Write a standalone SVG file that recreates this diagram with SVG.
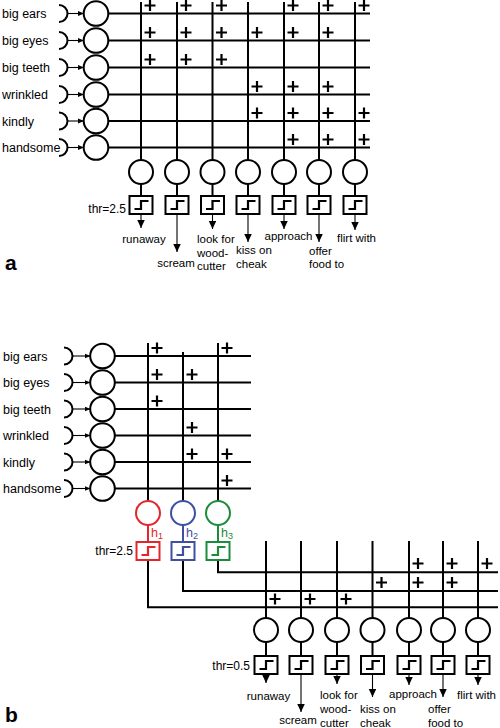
<svg xmlns="http://www.w3.org/2000/svg" xmlns:xlink="http://www.w3.org/1999/xlink" width="500" height="728" viewBox="0 0 500 728">
<style>
.w{stroke:#000;stroke-width:2;fill:none}
.t{stroke:#000;stroke-width:1.1;fill:none}
.nc{fill:#fff;stroke:#000;stroke-width:2}
.bx{fill:#fff;stroke:#000;stroke-width:2}
.st{fill:none;stroke:#000;stroke-width:2.2}
.lab{font-family:"Liberation Sans",Arial,sans-serif;font-size:12.5px;fill:#000}
.out{font-family:"Liberation Sans",Arial,sans-serif;font-size:11.5px;fill:#000}
.thr{font-family:"Liberation Sans",Arial,sans-serif;font-size:12px;fill:#000;text-anchor:end}
.big{font-family:"Liberation Sans",Arial,sans-serif;font-size:21px;font-weight:bold;fill:#000}
.m{text-anchor:middle}
.red{stroke:#e3262b}
.blue{stroke:#3f4fa3}
.green{stroke:#1b8c3c}
</style>
<defs>
<path id="plus" d="M-5.5,0H5.5M0,-5.5V5.5" stroke="#000" stroke-width="2.2"/>
<marker id="ah" markerUnits="userSpaceOnUse" markerWidth="8" markerHeight="8" refX="8" refY="3.75" orient="auto"><path d="M0,0L8,3.75L0,7.5z" fill="#000"/></marker>
<marker id="ahs" markerUnits="userSpaceOnUse" markerWidth="7" markerHeight="6" refX="6" refY="3" orient="auto"><path d="M0,0.5L6,3L0,5.5z" fill="#000"/></marker>
<path id="step" d="M-6.5,13H0V5H7.5"/>
</defs>

<!-- ================= PANEL A ================= -->
<g id="a-connectors">
<g class="w">
<path d="M108,13.5H370M108,40.5H370M108,67.5H370M108,94.5H370M108,121H370M108,147.5H370"/>
<path d="M141,2V160M177,2V160M212.5,2V160M248,2V160M284,2V160M319,2V160M355,2V160"/>
<path d="M141,184V196M177,184V196M212.5,184V196M248,184V196M284,184V196M319,184V196M355,184V196"/>
</g>
<g class="t">
<line x1="67.5" y1="13.5" x2="84" y2="13.5" marker-end="url(#ahs)"/>
<line x1="67.5" y1="40.5" x2="84" y2="40.5" marker-end="url(#ahs)"/>
<line x1="67.5" y1="67.5" x2="84" y2="67.5" marker-end="url(#ahs)"/>
<line x1="67.5" y1="94.5" x2="84" y2="94.5" marker-end="url(#ahs)"/>
<line x1="67.5" y1="121" x2="84" y2="121" marker-end="url(#ahs)"/>
<line x1="67.5" y1="147.5" x2="84" y2="147.5" marker-end="url(#ahs)"/>
<line x1="141" y1="214" x2="141" y2="228" marker-end="url(#ah)"/>
<line x1="177" y1="214" x2="177" y2="252" marker-end="url(#ah)"/>
<line x1="212.5" y1="214" x2="212.5" y2="229" marker-end="url(#ah)"/>
<line x1="248" y1="214" x2="248" y2="242" marker-end="url(#ah)"/>
<line x1="284" y1="214" x2="284" y2="229" marker-end="url(#ah)"/>
<line x1="319" y1="214" x2="319" y2="242" marker-end="url(#ah)"/>
<line x1="355" y1="214" x2="355" y2="230" marker-end="url(#ah)"/>
</g>
<g id="a-weights">
<use xlink:href="#plus" x="150" y="5.5"/><use xlink:href="#plus" x="186" y="5.5"/><use xlink:href="#plus" x="221.5" y="5.5"/><use xlink:href="#plus" x="293" y="5.5"/><use xlink:href="#plus" x="328" y="5.5"/><use xlink:href="#plus" x="364" y="5.5"/>
<use xlink:href="#plus" x="150" y="32.5"/><use xlink:href="#plus" x="186" y="32.5"/><use xlink:href="#plus" x="221.5" y="32.5"/><use xlink:href="#plus" x="257" y="32.5"/><use xlink:href="#plus" x="293" y="32.5"/><use xlink:href="#plus" x="328" y="32.5"/>
<use xlink:href="#plus" x="150" y="59.5"/><use xlink:href="#plus" x="186" y="59.5"/><use xlink:href="#plus" x="221.5" y="59.5"/>
<use xlink:href="#plus" x="257" y="86.5"/><use xlink:href="#plus" x="293" y="86.5"/><use xlink:href="#plus" x="328" y="86.5"/>
<use xlink:href="#plus" x="257" y="113"/><use xlink:href="#plus" x="293" y="113"/><use xlink:href="#plus" x="328" y="113"/><use xlink:href="#plus" x="364" y="113"/>
<use xlink:href="#plus" x="293" y="139.5"/><use xlink:href="#plus" x="328" y="139.5"/><use xlink:href="#plus" x="364" y="139.5"/>
</g>
</g>

<g id="a-in-bigears"><text class="lab" x="2" y="18">big ears</text><path class="w" d="M59,5A8.5,8.5 0 0 1 59,22"/><circle class="nc" cx="96" cy="13.5" r="12.3"/></g>
<g id="a-in-bigeyes"><text class="lab" x="2" y="45">big eyes</text><path class="w" d="M59,32A8.5,8.5 0 0 1 59,49"/><circle class="nc" cx="96" cy="40.5" r="12.3"/></g>
<g id="a-in-bigteeth"><text class="lab" x="2" y="72">big teeth</text><path class="w" d="M59,59A8.5,8.5 0 0 1 59,76"/><circle class="nc" cx="96" cy="67.5" r="12.3"/></g>
<g id="a-in-wrinkled"><text class="lab" x="2" y="99">wrinkled</text><path class="w" d="M59,86A8.5,8.5 0 0 1 59,103"/><circle class="nc" cx="96" cy="94.5" r="12.3"/></g>
<g id="a-in-kindly"><text class="lab" x="2" y="125.5">kindly</text><path class="w" d="M59,112.5A8.5,8.5 0 0 1 59,129.5"/><circle class="nc" cx="96" cy="121" r="12.3"/></g>
<g id="a-in-handsome"><text class="lab" x="2" y="152">handsome</text><path class="w" d="M59,139A8.5,8.5 0 0 1 59,156"/><circle class="nc" cx="96" cy="147.5" r="12.3"/></g>

<g id="a-out-runaway"><circle class="nc" cx="141" cy="172" r="12"/><rect class="bx" x="129.5" y="196" width="23" height="18"/><use xlink:href="#step" class="st" x="141" y="196"/><text class="out m" x="144" y="243">runaway</text></g>
<g id="a-out-scream"><circle class="nc" cx="177" cy="172" r="12"/><rect class="bx" x="165.5" y="196" width="23" height="18"/><use xlink:href="#step" class="st" x="177" y="196"/><text class="out m" x="176" y="267">scream</text></g>
<g id="a-out-woodcutter"><circle class="nc" cx="212.5" cy="172" r="12"/><rect class="bx" x="201" y="196" width="23" height="18"/><use xlink:href="#step" class="st" x="212.5" y="196"/><text class="out" x="197" y="243">look for</text><text class="out" x="197" y="256.5">wood-</text><text class="out" x="197" y="270">cutter</text></g>
<g id="a-out-kiss"><circle class="nc" cx="248" cy="172" r="12"/><rect class="bx" x="236.5" y="196" width="23" height="18"/><use xlink:href="#step" class="st" x="248" y="196"/><text class="out" x="236" y="254">kiss on</text><text class="out" x="236" y="267.5">cheak</text></g>
<g id="a-out-approach"><circle class="nc" cx="284" cy="172" r="12"/><rect class="bx" x="272.5" y="196" width="23" height="18"/><use xlink:href="#step" class="st" x="284" y="196"/><text class="out m" x="288.5" y="239.5">approach</text></g>
<g id="a-out-offer"><circle class="nc" cx="319" cy="172" r="12"/><rect class="bx" x="307.5" y="196" width="23" height="18"/><use xlink:href="#step" class="st" x="319" y="196"/><text class="out" x="309" y="255">offer</text><text class="out" x="309" y="268">food to</text></g>
<g id="a-out-flirt"><circle class="nc" cx="355" cy="172" r="12"/><rect class="bx" x="343.5" y="196" width="23" height="18"/><use xlink:href="#step" class="st" x="355" y="196"/><text class="out m" x="356.5" y="242">flirt with</text></g>
<text class="thr" x="126" y="213">thr=2.5</text>
<text class="big" x="5" y="270">a</text>

<!-- ================= PANEL B ================= -->
<g id="b-connectors">
<g class="w">
<path d="M114.5,356H251M114.5,382.5H251M114.5,409H251M114.5,435.5H251M114.5,462H251M114.5,488.5H251"/>
<path d="M148,343V501M183,352V501M218,343V501"/>
<path d="M148,560V607.3H498M183,560V591H498M218,560V572.3H498"/>
<path d="M266,541V618M301,541V618M337,541V618M372.5,541V618M409,541V618M443,541V618M478,541V618"/>
<path d="M266,642V656M301,642V656M337,642V656M372.5,642V656M409,642V656M443,642V656M478,642V656"/>
</g>
<g class="w red"><path d="M148,525V542"/></g>
<g class="w blue"><path d="M183,525V542"/></g>
<g class="w green"><path d="M218,525V542"/></g>
<g class="t">
<line x1="72.5" y1="356" x2="90.5" y2="356" marker-end="url(#ahs)"/>
<line x1="72.5" y1="382.5" x2="90.5" y2="382.5" marker-end="url(#ahs)"/>
<line x1="72.5" y1="409" x2="90.5" y2="409" marker-end="url(#ahs)"/>
<line x1="72.5" y1="435.5" x2="90.5" y2="435.5" marker-end="url(#ahs)"/>
<line x1="72.5" y1="462" x2="90.5" y2="462" marker-end="url(#ahs)"/>
<line x1="72.5" y1="488.5" x2="90.5" y2="488.5" marker-end="url(#ahs)"/>
<line x1="266" y1="674" x2="266" y2="683" marker-end="url(#ah)"/>
<line x1="301" y1="674" x2="301" y2="712" marker-end="url(#ah)"/>
<line x1="337" y1="674" x2="337" y2="684" marker-end="url(#ah)"/>
<line x1="372.5" y1="674" x2="372.5" y2="697" marker-end="url(#ah)"/>
<line x1="409" y1="674" x2="409" y2="685" marker-end="url(#ah)"/>
<line x1="443" y1="674" x2="443" y2="697" marker-end="url(#ah)"/>
<line x1="478" y1="674" x2="478" y2="685" marker-end="url(#ah)"/>
</g>
<g id="b-weights">
<use xlink:href="#plus" x="157" y="348"/><use xlink:href="#plus" x="227" y="348"/>
<use xlink:href="#plus" x="157" y="374.5"/><use xlink:href="#plus" x="192" y="374.5"/>
<use xlink:href="#plus" x="157" y="401"/>
<use xlink:href="#plus" x="192" y="427.5"/>
<use xlink:href="#plus" x="192" y="454"/><use xlink:href="#plus" x="227" y="454"/>
<use xlink:href="#plus" x="227" y="480.5"/>
<use xlink:href="#plus" x="418" y="563.5"/><use xlink:href="#plus" x="452" y="563.5"/><use xlink:href="#plus" x="487" y="563.5"/>
<use xlink:href="#plus" x="381.5" y="582.5"/><use xlink:href="#plus" x="418" y="582.5"/><use xlink:href="#plus" x="452" y="582.5"/>
<use xlink:href="#plus" x="275" y="599"/><use xlink:href="#plus" x="310" y="599"/><use xlink:href="#plus" x="346" y="599"/>
</g>
</g>

<g id="b-in-bigears"><text class="lab" x="3" y="360.5">big ears</text><path class="w" d="M64,347.5A8.5,8.5 0 0 1 64,364.5"/><circle class="nc" cx="102.5" cy="356" r="12.3"/></g>
<g id="b-in-bigeyes"><text class="lab" x="3" y="387">big eyes</text><path class="w" d="M64,374A8.5,8.5 0 0 1 64,391"/><circle class="nc" cx="102.5" cy="382.5" r="12.3"/></g>
<g id="b-in-bigteeth"><text class="lab" x="3" y="413.5">big teeth</text><path class="w" d="M64,400.5A8.5,8.5 0 0 1 64,417.5"/><circle class="nc" cx="102.5" cy="409" r="12.3"/></g>
<g id="b-in-wrinkled"><text class="lab" x="3" y="440">wrinkled</text><path class="w" d="M64,427A8.5,8.5 0 0 1 64,444"/><circle class="nc" cx="102.5" cy="435.5" r="12.3"/></g>
<g id="b-in-kindly"><text class="lab" x="3" y="466.5">kindly</text><path class="w" d="M64,453.5A8.5,8.5 0 0 1 64,470.5"/><circle class="nc" cx="102.5" cy="462" r="12.3"/></g>
<g id="b-in-handsome"><text class="lab" x="3" y="493">handsome</text><path class="w" d="M64,480A8.5,8.5 0 0 1 64,497"/><circle class="nc" cx="102.5" cy="488.5" r="12.3"/></g>

<g id="b-hidden-h1"><circle class="nc red" cx="148" cy="513" r="12"/><rect class="bx red" x="136.5" y="542" width="23" height="18"/><use xlink:href="#step" class="st red" x="148" y="542"/><text x="151" y="537" style="font-family:'Liberation Sans',Arial,sans-serif;font-size:12.5px;fill:#e3262b">h<tspan font-size="9" dy="2">1</tspan></text></g>
<g id="b-hidden-h2"><circle class="nc blue" cx="183" cy="513" r="12"/><rect class="bx blue" x="171.5" y="542" width="23" height="18"/><use xlink:href="#step" class="st blue" x="183" y="542"/><text x="186" y="537" style="font-family:'Liberation Sans',Arial,sans-serif;font-size:12.5px;fill:#3f4fa3">h<tspan font-size="9" dy="2">2</tspan></text></g>
<g id="b-hidden-h3"><circle class="nc green" cx="218" cy="513" r="12"/><rect class="bx green" x="206.5" y="542" width="23" height="18"/><use xlink:href="#step" class="st green" x="218" y="542"/><text x="221" y="537" style="font-family:'Liberation Sans',Arial,sans-serif;font-size:12.5px;fill:#1b8c3c">h<tspan font-size="9" dy="2">3</tspan></text></g>
<text class="thr" x="133" y="555">thr=2.5</text>

<g id="b-out-runaway"><circle class="nc" cx="266" cy="630" r="12"/><rect class="bx" x="254.5" y="656" width="23" height="18"/><use xlink:href="#step" class="st" x="266" y="656"/><text class="out m" x="268.5" y="699.5">runaway</text></g>
<g id="b-out-scream"><circle class="nc" cx="301" cy="630" r="12"/><rect class="bx" x="289.5" y="656" width="23" height="18"/><use xlink:href="#step" class="st" x="301" y="656"/><text class="out m" x="298" y="724">scream</text></g>
<g id="b-out-woodcutter"><circle class="nc" cx="337" cy="630" r="12"/><rect class="bx" x="325.5" y="656" width="23" height="18"/><use xlink:href="#step" class="st" x="337" y="656"/><text class="out" x="320" y="699">look for</text><text class="out" x="320" y="713">wood-</text><text class="out" x="320" y="727">cutter</text></g>
<g id="b-out-kiss"><circle class="nc" cx="372.5" cy="630" r="12"/><rect class="bx" x="361" y="656" width="23" height="18"/><use xlink:href="#step" class="st" x="372.5" y="656"/><text class="out" x="360" y="713">kiss on</text><text class="out" x="360" y="727">cheak</text></g>
<g id="b-out-approach"><circle class="nc" cx="409" cy="630" r="12"/><rect class="bx" x="397.5" y="656" width="23" height="18"/><use xlink:href="#step" class="st" x="409" y="656"/><text class="out m" x="413" y="698">approach</text></g>
<g id="b-out-offer"><circle class="nc" cx="443" cy="630" r="12"/><rect class="bx" x="431.5" y="656" width="23" height="18"/><use xlink:href="#step" class="st" x="443" y="656"/><text class="out" x="428" y="713">offer</text><text class="out" x="428" y="727">food to</text></g>
<g id="b-out-flirt"><circle class="nc" cx="478" cy="630" r="12"/><rect class="bx" x="466.5" y="656" width="23" height="18"/><use xlink:href="#step" class="st" x="478" y="656"/><text class="out m" x="476.5" y="699">flirt with</text></g>
<text class="thr" x="250" y="670">thr=0.5</text>
<text class="big" x="5" y="722">b</text>
</svg>
